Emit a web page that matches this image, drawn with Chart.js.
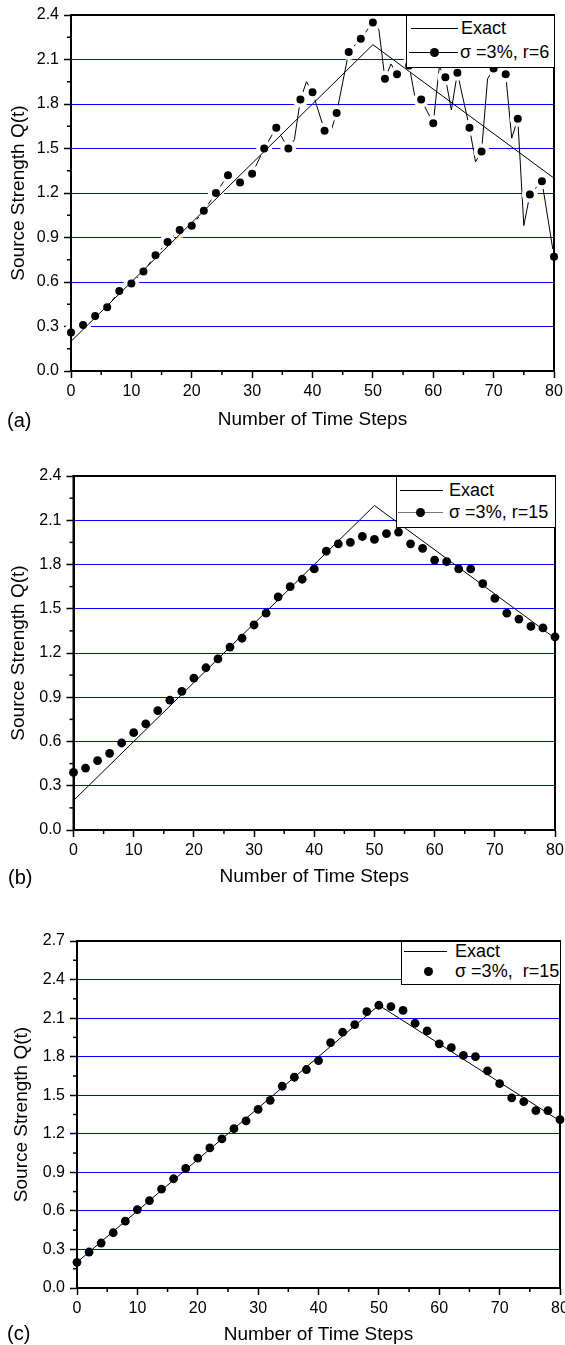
<!DOCTYPE html>
<html>
<head>
<meta charset="utf-8">
<script src="https://cdn.jsdelivr.net/npm/chart.js@4.4.1/dist/chart.umd.min.js"></script>
<style>
body { margin: 0; background: #fff; width: 565px; height: 1345px; position: relative; overflow: hidden;
       font-family: "Liberation Sans", Arial, sans-serif; color: #000; }
canvas { position: absolute; left: 0; }
.box { position: absolute; background: #fff; border: 1.5px solid #000; box-sizing: border-box; }
.ln { position: absolute; height: 1px; background: #000; }
.dot { position: absolute; width: 9px; height: 9px; border-radius: 50%; background: #000; }
.tx { position: absolute; font-size: 18px; line-height: 20px; white-space: pre; }
.tag { position: absolute; font-size: 20px; line-height: 20px; }
</style>
</head>
<body>
<canvas id="cA" width="565" height="440" style="top:0px"></canvas>
<canvas id="cB" width="565" height="460" style="top:440px"></canvas>
<canvas id="cC" width="565" height="445" style="top:900px"></canvas>

<!-- legend (a) -->
<div class="box" style="left:406px;top:15px;width:149px;height:53px"></div>
<div class="ln" style="left:411px;top:28px;width:47px"></div>
<div class="tx" style="left:461px;top:18px">Exact</div>
<div class="ln" style="left:409px;top:52px;width:49px"></div>
<div class="dot" style="left:430px;top:48px"></div>
<div class="tx" style="left:460px;top:42px">σ =3%, r=6</div>

<!-- legend (b) -->
<div class="box" style="left:396px;top:476px;width:160px;height:52px"></div>
<div class="ln" style="left:400px;top:490px;width:43px"></div>
<div class="tx" style="left:449px;top:480px">Exact</div>
<div class="ln" style="left:398px;top:512px;width:45px;background:#777"></div>
<div class="dot" style="left:416px;top:508px"></div>
<div class="tx" style="left:449px;top:502px">σ =3%, r=15</div>

<!-- legend (c) -->
<div class="box" style="left:401px;top:941px;width:160px;height:44px"></div>
<div class="ln" style="left:404px;top:951px;width:43px"></div>
<div class="tx" style="left:455px;top:941px">Exact</div>
<div class="dot" style="left:424px;top:967px"></div>
<div class="tx" style="left:455px;top:961px">σ =3%,  r=15</div>

<div class="tag" style="left:7px;top:410px">(a)</div>
<div class="tag" style="left:8px;top:867px">(b)</div>
<div class="tag" style="left:7px;top:1323px">(c)</div>

<script>
// ===============================
// DATA
// ===============================
const exactX = [0, 50, 80];
const exactY = [0.2, 2.2, 1.3];

// (a) r=6 : line goes through every step, symbols on even steps
const stepsA = [0,2,4,6,8,10,12,14,16,18,20,22,24,26,28,30,32,34,36,37,38,39,40,42,43,44,46,48,50,51,52,53,54,56,57,58,60,61,62,63,64,66,67,68,69,70,72,73,74,75,76,78,80];
const qA = [0.26,0.31,0.37,0.43,0.54,0.59,0.67,0.78,0.87,0.95,0.98,1.08,1.20,1.32,1.27,1.33,1.50,1.64,1.50,1.56,1.83,1.95,1.88,1.62,1.61,1.74,2.15,2.24,2.35,2.30,1.97,2.07,2.00,2.06,1.84,1.83,1.67,2.05,1.98,1.76,2.01,1.64,1.41,1.48,1.97,2.04,2.00,1.57,1.70,0.98,1.19,1.28,0.77];

// (b) and (c) r=15
const steps = [0,2,4,6,8,10,12,14,16,18,20,22,24,26,28,30,32,34,36,38,40,42,44,46,48,50,52,54,56,58,60,62,64,66,68,70,72,74,76,78,80];
const qB = [0.39,0.42,0.47,0.52,0.59,0.66,0.72,0.81,0.88,0.94,1.03,1.10,1.16,1.24,1.30,1.39,1.47,1.58,1.65,1.70,1.77,1.89,1.94,1.95,1.99,1.97,2.01,2.02,1.94,1.91,1.83,1.82,1.77,1.77,1.67,1.57,1.47,1.43,1.38,1.37,1.31];
const qC = [0.20,0.28,0.35,0.43,0.52,0.61,0.68,0.77,0.85,0.93,1.01,1.09,1.16,1.24,1.30,1.39,1.46,1.57,1.64,1.70,1.77,1.91,1.99,2.05,2.15,2.20,2.19,2.16,2.06,2.00,1.90,1.87,1.81,1.80,1.69,1.59,1.48,1.45,1.38,1.38,1.31];

const xTitle = 'Number of Time Steps';
const yTitle = 'Source Strength Q(t)';

const pts = (xs, ys) => xs.map((x, i) => ({ x: x, y: ys[i] }));
const FONT = '"Liberation Sans", Arial, sans-serif';

// frame + minor ticks
const framePlugin = {
    id: 'frame',
    afterDatasetsDraw(chart) {
        const { ctx, chartArea: a } = chart;
        ctx.save();
        ctx.strokeStyle = '#000';
        ctx.lineWidth = 2;
        ctx.strokeRect(a.left, a.top, a.right - a.left, a.bottom - a.top);
        ctx.restore();
    },
    afterDraw(chart) {
        const { ctx, chartArea: a, scales } = chart;
        ctx.save();
        ctx.strokeStyle = '#000';
        ctx.lineWidth = 1.5;
        const ty = scales.y.ticks.map(t => t.value);
        for (let i = 0; i < ty.length - 1; i++) {
            const p = scales.y.getPixelForValue((ty[i] + ty[i + 1]) / 2);
            ctx.beginPath(); ctx.moveTo(a.left - 4, p); ctx.lineTo(a.left, p); ctx.stroke();
        }
        const tx = scales.x.ticks.map(t => t.value);
        for (let i = 0; i < tx.length - 1; i++) {
            const p = scales.x.getPixelForValue((tx[i] + tx[i + 1]) / 2);
            ctx.beginPath(); ctx.moveTo(p, a.bottom); ctx.lineTo(p, a.bottom + 4); ctx.stroke();
        }
        ctx.restore();
    }
};

function makePanel(id, p) {
    const yMax = p.yMax;
    new Chart(document.getElementById(id).getContext('2d'), {
        type: 'scatter',
        data: { datasets: p.datasets },
        options: {
            responsive: false,
            devicePixelRatio: 1,
            animation: false,
            events: [],
            layout: { padding: p.padding },
            plugins: { legend: { display: false }, tooltip: { enabled: false } },
            scales: {
                x: {
                    type: 'linear', min: 0, max: 80,
                    afterFit(s) { s.height = p.xHeight; s.paddingLeft = 0; s.paddingRight = 0; },
                    ticks: { stepSize: 10, color: '#000', padding: 4, maxRotation: 0,
                             font: { family: FONT, size: 16 } },
                    grid: { drawOnChartArea: false, drawTicks: true, tickLength: 7, tickColor: '#000', tickWidth: 1.5 },
                    border: { display: true, color: '#000', width: 2 },
                    title: { display: true, text: xTitle, color: '#000', padding: { top: 0, bottom: 0 },
                             font: { family: FONT, size: 19, lineHeight: 1 } }
                },
                y: {
                    type: 'linear', min: 0, max: yMax,
                    afterFit(s) { s.width = p.yWidth; s.paddingTop = 0; s.paddingBottom = 0; },
                    ticks: { stepSize: 0.3, color: '#000', padding: 5,
                             font: { family: FONT, size: 16 },
                             callback: v => v.toFixed(1) },
                    grid: {
                        color: c => (c.tick && c.tick.value > 0.01 && c.tick.value < yMax - 0.01) ? '#0000ff' : 'rgba(0,0,0,0)',
                        lineWidth: 1,
                        drawTicks: true, tickLength: 7, tickColor: '#000', tickWidth: 1.5
                    },
                    border: { display: true, color: '#000', width: 2 },
                    title: { display: true, text: yTitle, color: '#000', padding: { top: p.yTitlePad, bottom: 0 },
                             font: { family: FONT, size: 19, lineHeight: 1 } }
                }
            }
        },
        plugins: [framePlugin]
    });
}

const exactSet = () => ({
    label: 'Exact', data: pts(exactX, exactY), showLine: true,
    borderColor: '#000', borderWidth: 1, pointRadius: 0, clip: false, order: 0
});

makePanel('cA', {
    yMax: 2.4, yWidth: 71, xHeight: 58.5, yTitlePad: 9.5,
    padding: { top: 15, right: 11, bottom: 10.5, left: 0 },
    datasets: [
        exactSet(),
        {
            label: 'σ =3%, r=6', data: pts(stepsA, qA), showLine: true,
            borderColor: '#000', borderWidth: 1,
            pointRadius: c => (c.raw && c.raw.x % 2 === 0) ? 6 : 0,
            pointBackgroundColor: '#000', pointBorderColor: '#fff', pointBorderWidth: 4,
            clip: false, order: 1
        }
    ]
});

makePanel('cB', {
    yMax: 2.4, yWidth: 73.5, xHeight: 56.5, yTitlePad: 9.5,
    padding: { top: 36, right: 10, bottom: 13.5, left: 0 },
    datasets: [
        exactSet(),
        {
            label: 'σ =3%, r=15', data: pts(steps, qB), showLine: false,
            pointRadius: 4.4, pointBackgroundColor: '#000', pointBorderWidth: 0,
            clip: false, order: 1
        }
    ]
});

makePanel('cC', {
    yMax: 2.7, yWidth: 77, xHeight: 56.5, yTitlePad: 12.5,
    padding: { top: 41, right: 5, bottom: 0.5, left: 0 },
    datasets: [
        exactSet(),
        {
            label: 'σ =3%,  r=15', data: pts(steps, qC), showLine: false,
            pointRadius: 4.4, pointBackgroundColor: '#000', pointBorderWidth: 0,
            clip: false, order: 1
        }
    ]
});
</script>
</body>
</html>
